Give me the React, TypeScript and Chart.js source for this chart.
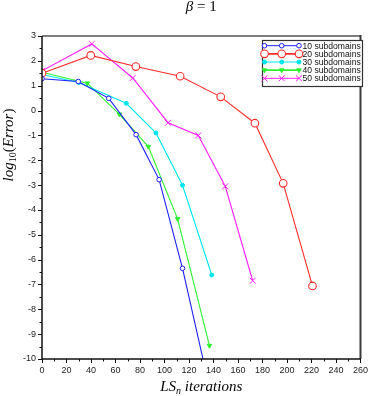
import React, { useEffect, useRef } from 'react';
import { Chart, registerables } from 'chart.js';
import { drawPoint } from 'chart.js/helpers';

Chart.register(...registerables);

const W = 374;
const H = 396;

// Data (LS_n iterations, log10(Error))
const iter10 = [0, 29.6, 54.5, 76.8, 95.6, 114.7, 136];
const err10 = [1.28, 1.17, 0.49, -0.97, -2.78, -6.35, -11.0];
const iter20 = [0, 39.8, 76.6, 112.8, 145.9, 173.8, 196.9, 220.8];
const err20 = [1.5, 2.22, 1.77, 1.38, 0.55, -0.51, -2.93, -7.06];
const iter30 = [0, 30, 68.8, 93, 114.7, 138.6];
const err30 = [1.45, 1.13, 0.29, -0.9, -3.01, -6.62];
const iter40 = [0, 37, 63.2, 86.8, 110.7, 136.7];
const err40 = [1.54, 1.1, -0.15, -1.45, -4.36, -9.46];
const iter50 = [0, 40.6, 74.1, 102.9, 127.6, 149.6, 172];
const err50 = [1.6, 2.68, 1.31, -0.49, -1.0, -3.05, -6.85];

const seriesLabels = ['10 subdomains', '20 subdomains', '30 subdomains', '40 subdomains', '50 subdomains'];
const xMin = 0;
const xMax = 260;
const yMin = -10;
const yMax = 3;

const styles = [
  { color: '#1f1fff', fill: '#ffffff', pointStyle: 'circle', radius: 2.3, rotation: 0, bw: 1 },
  { color: '#ff2a2a', fill: '#ffffff', pointStyle: 'circle', radius: 3.8, rotation: 0, bw: 1.1 },
  { color: '#00e5ee', fill: '#00e5ee', pointStyle: 'circle', radius: 2, rotation: 0, bw: 1 },
  { color: '#2ef02e', fill: '#2ef02e', pointStyle: 'triangle', radius: 2.6, rotation: 180, bw: 1 },
  { color: '#ff1fff', fill: '#ff1fff', pointStyle: 'crossRot', radius: 4.2, rotation: 0, bw: 1 },
];

const allIters = [iter10, iter20, iter30, iter40, iter50];
const allErrs = [err10, err20, err30, err40, err50];

const SERIF = '"Liberation Serif", "DejaVu Serif", serif';
const SANS = '"Liberation Sans", Arial, sans-serif';

const framePlugin = {
  id: 'framePlugin',
  afterDraw(chart: any) {
    const { ctx, chartArea: a, scales } = chart;
    ctx.save();
    // top and right border
    ctx.lineWidth = 2;
    ctx.strokeStyle = '#7d7d7d';
    ctx.beginPath();
    ctx.moveTo(a.left, a.top);
    ctx.lineTo(a.right, a.top);
    ctx.stroke();
    ctx.strokeStyle = '#3a3a3a';
    ctx.beginPath();
    ctx.moveTo(a.right, a.top - 1);
    ctx.lineTo(a.right, a.bottom);
    ctx.stroke();
    // axes
    ctx.strokeStyle = '#111';
    ctx.lineWidth = 1.5;
    ctx.beginPath();
    ctx.moveTo(a.left, a.top);
    ctx.lineTo(a.left, a.bottom);
    ctx.lineTo(a.right, a.bottom);
    ctx.stroke();
    // ticks
    ctx.lineWidth = 1;
    ctx.beginPath();
    for (let v = yMin; v <= yMax + 1e-9; v += 0.5) {
      const y = Math.round(scales.y.getPixelForValue(v)) + 0.5;
      const len = Number.isInteger(v) ? 4 : 2.5;
      ctx.moveTo(a.left - len, y);
      ctx.lineTo(a.left, y);
    }
    for (let v = xMin; v <= xMax + 1e-9; v += 10) {
      const x = Math.round(scales.x.getPixelForValue(v)) + 0.5;
      const len = v % 20 === 0 ? 4 : 2.5;
      ctx.moveTo(x, a.bottom);
      ctx.lineTo(x, a.bottom + len);
    }
    ctx.stroke();

    // title: β = 1
    ctx.fillStyle = '#000';
    ctx.textBaseline = 'alphabetic';
    ctx.font = `italic 15px ${SERIF}`;
    const bw = ctx.measureText('β').width;
    ctx.font = `15px ${SERIF}`;
    const rest = ' = 1';
    const rw = ctx.measureText(rest).width;
    const cx = (a.left + a.right) / 2;
    let tx = cx - (bw + rw) / 2;
    ctx.font = `italic 15px ${SERIF}`;
    ctx.fillText('β', tx, 11);
    ctx.font = `15px ${SERIF}`;
    ctx.fillText(rest, tx + bw, 11);

    // x-axis title: LS_n iterations
    const xParts = [
      { t: 'LS', f: `italic 15px ${SERIF}`, dy: 0 },
      { t: 'n', f: `italic 10px ${SERIF}`, dy: 3 },
      { t: ' iterations', f: `italic 15px ${SERIF}`, dy: 0 },
    ];
    let tot = 0;
    for (const p of xParts) { ctx.font = p.f; tot += ctx.measureText(p.t).width; }
    let px = cx - tot / 2;
    for (const p of xParts) {
      ctx.font = p.f;
      ctx.fillText(p.t, px, 391 + p.dy);
      px += ctx.measureText(p.t).width;
    }

    // y-axis title: log10(Error)
    const yParts = [
      { t: 'log', f: `italic 15px ${SERIF}`, dy: 0 },
      { t: '10', f: `10px ${SERIF}`, dy: 3 },
      { t: '(', f: `15px ${SERIF}`, dy: 0 },
      { t: 'Error', f: `italic 15px ${SERIF}`, dy: 0 },
      { t: ')', f: `15px ${SERIF}`, dy: 0 },
    ];
    tot = 0;
    for (const p of yParts) { ctx.font = p.f; tot += ctx.measureText(p.t).width; }
    ctx.save();
    ctx.translate(13, 145);
    ctx.rotate(-Math.PI / 2);
    px = -tot / 2;
    for (const p of yParts) {
      ctx.font = p.f;
      ctx.fillText(p.t, px, p.dy);
      px += ctx.measureText(p.t).width;
    }
    ctx.restore();

    // legend
    const lx0 = 262.5, ly0 = 40.5, lw = 100, lh = 46;
    ctx.fillStyle = '#fff';
    ctx.fillRect(lx0, ly0, lw, lh);
    ctx.strokeStyle = '#333';
    ctx.lineWidth = 1.2;
    ctx.strokeRect(lx0, ly0, lw, lh);
    ctx.font = `8.6px ${SANS}`;
    ctx.textBaseline = 'middle';
    for (let i = 0; i < seriesLabels.length; i++) {
      const s = styles[i];
      const y = 45.7 + i * 8.15;
      ctx.strokeStyle = s.color;
      ctx.lineWidth = i === 1 || i === 3 ? 1.8 : 1;
      ctx.beginPath();
      ctx.moveTo(264.5, y);
      ctx.lineTo(299, y);
      ctx.stroke();
      ctx.lineWidth = s.bw;
      for (const mx of [264.5, 281.7, 299]) {
        ctx.fillStyle = s.fill;
        ctx.strokeStyle = s.color;
        drawPoint(ctx, { pointStyle: s.pointStyle, rotation: s.rotation, radius: s.radius, borderWidth: s.bw } as any, mx, y);
      }
      ctx.fillStyle = '#111';
      ctx.fillText(seriesLabels[i], 302.5, y + 0.5);
    }
    ctx.restore();
  },
};

export default function App() {
  const ref = useRef<HTMLCanvasElement | null>(null);
  useEffect(() => {
    if (!ref.current) return;
    const datasets = seriesLabels.map((label, i) => {
      const s = styles[i];
      return {
        label,
        data: allIters[i].map((x, j) => ({ x, y: allErrs[i][j] })),
        borderColor: s.color,
        backgroundColor: s.fill,
        borderWidth: 1.1,
        pointStyle: s.pointStyle as any,
        pointRotation: s.rotation,
        pointRadius: s.radius,
        pointBorderWidth: s.bw,
        pointBorderColor: s.color,
        pointBackgroundColor: s.fill,
        tension: 0,
        fill: false,
      };
    });
    const chart = new Chart(ref.current, {
      type: 'line',
      data: { datasets },
      options: {
        responsive: false,
        animation: false,
        devicePixelRatio: 1,
        layout: { padding: { top: 36, right: 8, left: 0, bottom: 0 } },
        plugins: {
          legend: { display: false },
          tooltip: { enabled: false },
          title: { display: false },
        },
        scales: {
          x: {
            type: 'linear',
            min: xMin,
            max: xMax,
            afterFit: (s: any) => { s.height = 37; },
            grid: { display: false, drawTicks: false },
            border: { display: false },
            ticks: {
              stepSize: 20,
              padding: 6,
              color: '#222',
              font: { family: SANS, size: 9 },
              maxRotation: 0,
              autoSkip: false,
            },
          },
          y: {
            type: 'linear',
            min: yMin,
            max: yMax,
            afterFit: (s: any) => { s.width = 42; },
            grid: { display: false, drawTicks: false },
            border: { display: false },
            ticks: {
              stepSize: 1,
              padding: 6,
              color: '#222',
              font: { family: SANS, size: 9 },
              autoSkip: false,
            },
          },
        },
      },
      plugins: [framePlugin],
    });
    return () => chart.destroy();
  }, []);
  return (
    <div style={{ position: 'absolute', left: 0, top: 0, width: W, height: H }}>
      <canvas ref={ref} width={W} height={H} style={{ width: W, height: H, display: 'block' }} />
    </div>
  );
}
